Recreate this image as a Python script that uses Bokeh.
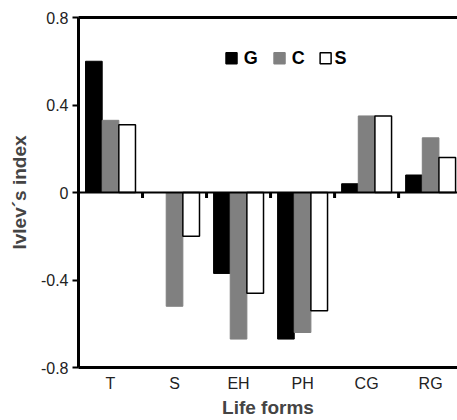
from bokeh.plotting import figure
from bokeh.models import Range1d, FixedTicker, LinearAxis, Span
from bokeh.core.properties import value
from bokeh.embed import file_html
from bokeh.resources import INLINE

categories = ["T", "S", "EH", "PH", "CG", "RG"]
g_vals = [0.60, 0.0, -0.37, -0.67, 0.04, 0.08]
c_vals = [0.33, -0.52, -0.67, -0.64, 0.35, 0.25]
s_vals = [0.31, -0.20, -0.46, -0.54, 0.35, 0.16]
legend_labels = ["G", "C", "S"]
y_ticks = [-0.8, -0.4, 0, 0.4, 0.8]
y_tick_labels = {-0.8: "-0.8", -0.4: "-0.4", 0: "0", 0.4: "0.4", 0.8: "0.8"}

FONT = "Liberation Sans"

p = figure(width=457, height=420, output_backend="svg", toolbar_location=None,
           x_range=Range1d(0, 5.92), y_range=Range1d(-0.8, 0.8),
           min_border_left=78, min_border_right=0, min_border_top=17, min_border_bottom=50)
p.outline_line_color = None
p.grid.visible = False
p.background_fill_color = "white"

pos = [i + 0.5 for i in range(len(categories))]
bw = 0.26
p.vbar(x=[x - 0.26 for x in pos], top=g_vals, bottom=0, width=bw,
       fill_color="black", line_color="black")
p.vbar(x=pos, top=c_vals, bottom=0, width=bw,
       fill_color="#808080", line_color="#808080")
p.vbar(x=[x + 0.26 for x in pos], top=s_vals, bottom=0, width=bw,
       fill_color="white", line_color="black", line_width=1.5)

# zero line
p.add_layout(Span(location=0, dimension="width", line_color="black", line_width=2))
# small ticks on zero line between groups
p.segment(x0=[1, 2, 3, 4, 5], y0=[0] * 5, x1=[1, 2, 3, 4, 5], y1=[-0.025] * 5,
          line_color="black", line_width=3)

# legend
p.scatter(x=[2.39, 3.14, 3.86], y=[0.614] * 3, marker="square", size=11,
          fill_color=["black", "#808080", "white"], line_color=["black", "#808080", "black"],
          line_width=1.5)
p.text(x=[2.58, 3.33, 4.0], y=[0.614] * 3, text=legend_labels,
       text_font=value(FONT), text_font_style="bold", text_font_size="18px",
       text_baseline="middle", text_align="left", text_color="black")

# y axis
p.yaxis.ticker = FixedTicker(ticks=y_ticks)
p.yaxis.major_label_overrides = y_tick_labels
p.yaxis.axis_line_width = 3
p.yaxis.major_tick_out = 6
p.yaxis.major_tick_in = 0
p.yaxis.major_tick_line_width = 2
p.yaxis.minor_tick_line_color = None
p.yaxis.major_label_text_font = FONT
p.yaxis.major_label_text_font_size = "16px"
p.yaxis.major_label_text_color = "#222222"
p.yaxis.major_label_standoff = 4
p.yaxis.axis_label = "Ivlev´s index"
p.yaxis.axis_label_text_font = FONT
p.yaxis.axis_label_text_font_style = "bold"
p.yaxis.axis_label_text_font_size = "19px"
p.yaxis.axis_label_standoff = 8

# x axis
p.xaxis.ticker = FixedTicker(ticks=pos)
p.xaxis.major_label_overrides = {x: c for x, c in zip(pos, categories)}
p.xaxis.axis_line_width = 3
p.xaxis.major_tick_out = 0
p.xaxis.major_tick_in = 0
p.xaxis.minor_tick_line_color = None
p.xaxis.major_label_text_font = FONT
p.xaxis.major_label_text_font_size = "16px"
p.xaxis.major_label_text_color = "#222222"
p.xaxis.major_label_standoff = 7
p.xaxis.axis_label = "Life forms"
p.xaxis.axis_label_text_font = FONT
p.xaxis.axis_label_text_font_style = "bold"
p.xaxis.axis_label_text_font_size = "19px"
p.xaxis.axis_label_standoff = 2

# top border
top = LinearAxis(ticker=FixedTicker(ticks=[]), axis_line_width=3,
                 major_tick_out=0, major_tick_in=0, minor_tick_line_color=None,
                 major_label_text_font_size="0px")
p.add_layout(top, "above")

open("out.html", "w").write(file_html(p, INLINE))
